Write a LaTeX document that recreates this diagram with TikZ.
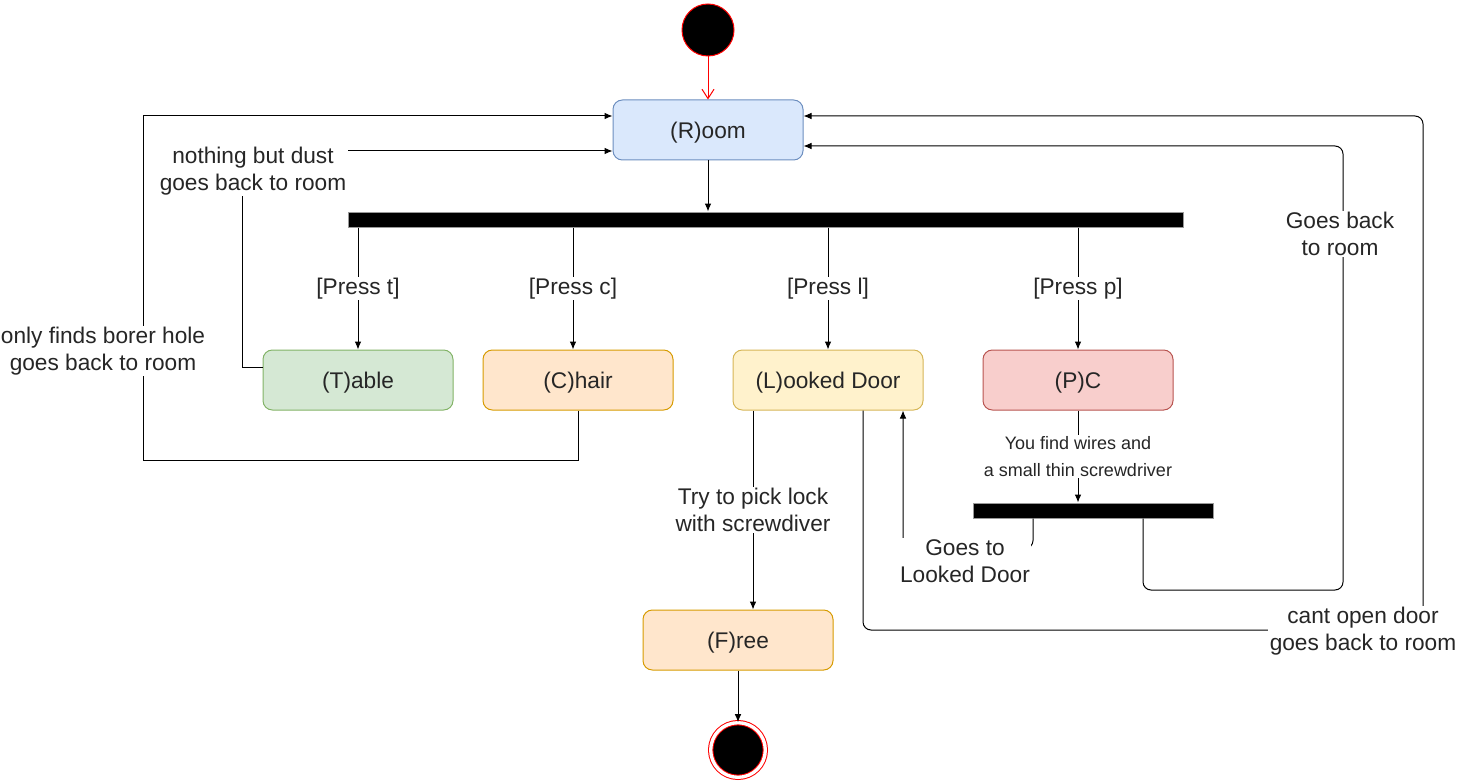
\documentclass[tikz,border=0pt]{standalone}
\usepackage{fontspec}
\setmainfont{Liberation Sans}
\usetikzlibrary{positioning}
\usetikzlibrary{arrows.meta}
\definecolor{roomfill}{HTML}{DAE8FC}
\definecolor{roomline}{HTML}{6C8EBF}
\definecolor{tablefill}{HTML}{D5E8D4}
\definecolor{tableline}{HTML}{82B366}
\definecolor{chairfill}{HTML}{FFE6CC}
\definecolor{chairline}{HTML}{D79B00}
\definecolor{doorfill}{HTML}{FFF2CC}
\definecolor{doorline}{HTML}{D6B656}
\definecolor{pcfill}{HTML}{F8CECC}
\definecolor{pcline}{HTML}{B85450}
\definecolor{umlred}{HTML}{FF0000}
\tikzset{
    mystate/.style = {rectangle, rounded corners=7pt, line width=0.75pt, minimum width=142.5pt, minimum height=45pt, text height=17pt, text depth=3.7pt, align=center, font=\fontsize{17}{20}\selectfont, text=black!85},
    mystater/.style = {mystate, draw=roomline, fill=roomfill},
    mystateg/.style = {mystate, draw=tableline, fill=tablefill},
    mystateo/.style = {mystate, draw=chairline, fill=chairfill},
    mystatey/.style = {mystate, draw=doorline, fill=doorfill},
    mystatep/.style = {mystate, draw=pcline, fill=pcfill},
    mybar/.style = {rectangle, draw=gray!80, line width=0.75pt, fill=black, minimum height=11.25pt, inner sep=0pt},
    mystart/.style = {circle, draw=umlred, line width=0.75pt, fill=black, minimum size=39pt, inner sep=0pt},
    myfinish/.style = {circle, draw=umlred, double=white, double distance=2.5pt, line width=0.75pt, fill=black, minimum size=41pt, inner sep=0pt},
    mylabel/.style = {fill=white, align=center, inner sep=1pt, font=\fontsize{17}{20.25}\selectfont, text=black!85},
    mylabels/.style = {mylabel, font=\fontsize{13.5}{20.25}\selectfont},
    edgen/.style = {-{Latex[length=6pt,width=5pt]}, line width=0.75pt, black},
    edger/.style = {-{Straight Barb[length=7pt,width=9pt]}, line width=0.75pt, umlred},
    edgec/.style = {edgen, rounded corners=6pt}
}
\begin{document}
\begin{tikzpicture}[x=0.75pt,y=-0.75pt]
\path[use as bounding box] (0,0) rectangle (1459,781);
%
\node[mystart] at (708,30) (start) {};
\node[mystater] at (708,130) (room) {(R)oom};
\node[mybar, minimum width=626.25pt] at (765.5,219.5) (fork) {};
\node[mystateg] at (358,380) (table) {(T)able};
\node[mystateo] at (578,380) (chair) {(C)hair};
\node[mystatey] at (828,380) (door) {(L)ooked Door};
\node[mystatep] at (1078,380) (pc) {(P)C};
\node[mybar, minimum width=180pt] at (1093,510.5) (fork2) {};
\node[mystateo] at (738,640) (free) {(F)ree};
\node[myfinish] at (738,750) (finish) {};
%
\draw[edger] (start) -- (room);
\draw[edgen] (room.south) -- (room.south |- fork.north);
\draw[edgen] (fork.south -| table) -- node[mylabel] {[Press t]} (table);
\draw[edgen] ([xshift=-3.75pt]fork.south -| chair) -- node[mylabel] {[Press c]} ([xshift=-3.75pt]chair.north);
\draw[edgen] (fork.south -| door) -- node[mylabel] {[Press l]} (door);
\draw[edgen] (fork.south -| pc) -- node[mylabel] {[Press p]} (pc);
%
\draw[edgen] ([yshift=9.75pt]table.west) -- ++(-20,0) |- ([yshift=-15.75pt]room.west);
\node[mylabel] at (253,171) (dust) {nothing but dust\\goes back to room};
\draw[edgen] (chair.south) |- (143,460) |- ([yshift=10.5pt]room.west);
\node[mylabel] at (103,351) (borer) {only finds borer hole\\goes back to room};
%
\draw[edgen] ([xshift=-56.25pt]door.south) -- node[mylabel] {Try to pick lock\\with screwdiver} ([xshift=11.25pt]free.north);
\draw[edgec] ([xshift=26.25pt]door.south) |- (1423,630) |- ([yshift=10.5pt]room.east);
\node[mylabel] at (1363,631) (cant) {cant open door\\goes back to room};
%
\draw[edgen] (pc.south) -- node[mylabels] {You find wires and\\a small thin screwdriver} (pc.south |- fork2.north);
\draw[edgec] ([xshift=-45pt]fork2.south) -- ++(0,30) -| ([xshift=56.25pt]door.south);
\node[mylabel] at (965,561) (goesdoor) {Goes to\\Looked Door};
\draw[edgec] ([xshift=37.5pt]fork2.south) |- (1343,590) |- ([yshift=-12pt]room.east);
\node[mylabel] at (1340,234) (goesroom) {Goes back\\to room};
%
\draw[edgen] (free) -- (finish);
\end{tikzpicture}
\end{document}
